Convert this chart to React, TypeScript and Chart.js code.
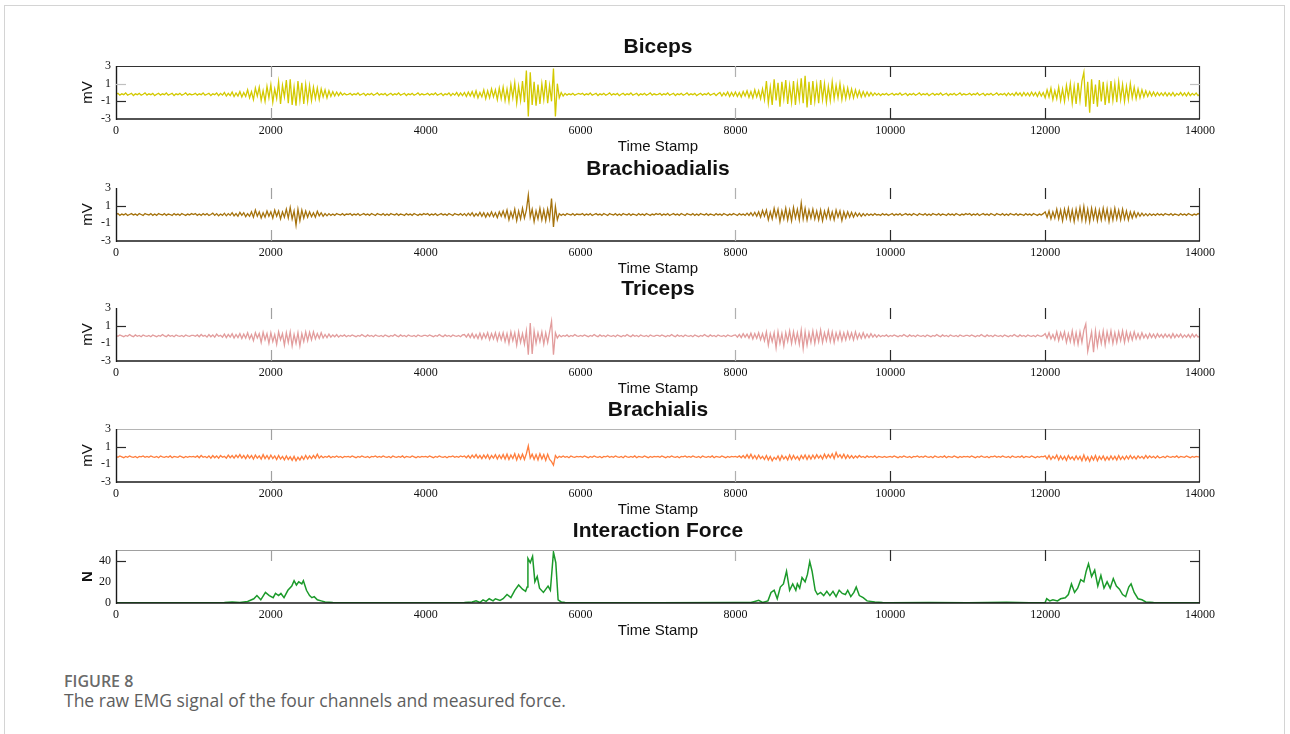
import React, { useEffect, useRef } from "react";
import { Chart, registerables } from "chart.js";

Chart.register(...registerables);

// ---- data (EMG sampled every 25 time stamps, 0..14000) ----
const SAMPLE_STEP = 25;

const bicepsQuietA = [-0.2,-0.1,-0.3,-0.15,-0.25,-0.05,-0.3,-0.2,-0.1,-0.35,-0.15,-0.25,-0.1,-0.3,-0.2,-0.05,-0.3,-0.15,-0.25,-0.1];
const bicepsQuietB = [-0.35,-0.2,-0.1,-0.3,-0.15,-0.25,-0.05,-0.3,-0.2,-0.1,-0.35,-0.15,-0.25,-0.1,-0.3,-0.2,-0.05,-0.3,-0.15,-0.25];

const biceps = [
  ...bicepsQuietA, ...bicepsQuietB,
  -0.2,-0.1,-0.3,-0.15,-0.25,-0.05,-0.3,-0.2,-0.1,-0.35,-0.15,-0.25,-0.05,-0.35,-0.1,-0.3,
  0.0,-0.4,-0.1,-0.35,0.05,-0.45,-0.05,-0.4,0.1,-0.5,0.0,-0.45,
  0.3,-0.6,0.1,-0.8,0.5,-0.4,0.6,-0.9,0.2,-1.0,0.7,-0.6,
  0.9,-1.1,0.4,-0.7,1.2,-1.3,0.8,-0.5,1.4,-1.2,1.5,-1.4,0.6,-1.5,1.3,-0.9,1.1,-1.3,0.9,-1.0,
  0.8,-0.9,0.6,-0.7,0.5,-0.8,0.4,-0.5,0.3,-0.6,0.2,-0.45,0.1,-0.4,0.05,-0.35,0.0,-0.3,-0.1,-0.25,
  ...bicepsQuietA, ...bicepsQuietB,
  -0.2,-0.1,-0.3,-0.15,-0.25,-0.05,-0.3,-0.2,-0.1,-0.35,-0.15,-0.25,-0.05,-0.35,-0.1,-0.3,0.0,-0.4,-0.05,-0.35,0.0,-0.45,0.05,-0.4,
  0.1,-0.5,0.2,-0.6,0.0,-0.5,0.3,-0.7,0.2,-0.6,0.4,-0.5,0.3,-0.8,0.5,-0.7,
  0.6,-0.9,0.4,-1.0,0.9,-0.6,1.1,-1.2,0.7,-0.9,1.3,-1.1,
  2.5,-2.7,2.3,-1.4,
  1.2,-1.5,0.9,-1.3,1.0,-0.8,1.4,-1.2,0.8,-1.0,
  2.7,-2.7,1.0,
  -0.6,0.0,-0.4,-0.1,-0.3,-0.15,-0.25,-0.1,-0.3,-0.2,-0.1,
  ...bicepsQuietA, ...bicepsQuietB,
  -0.2,-0.1,-0.3,-0.15,-0.25,-0.05,-0.3,-0.2,-0.1,-0.35,-0.15,-0.25,-0.1,-0.3,-0.2,-0.05,-0.3,-0.15,-0.25,-0.1,-0.35,-0.2,-0.1,-0.3,-0.15,-0.25,-0.05,-0.3,-0.2,-0.1,-0.35,-0.15,
  0.0,-0.4,-0.05,-0.35,0.05,-0.45,0.0,-0.4,
  0.05,-0.45,0.0,-0.5,0.1,-0.4,0.2,-0.55,0.1,-0.6,0.3,-0.5,0.2,-0.7,0.4,-0.8,
  1.3,-1.2,0.6,-1.4,1.5,-0.9,1.1,-1.6,1.2,-0.7,1.4,-1.3,0.8,-1.1,1.3,-1.4,1.0,-0.8,1.6,-1.2,1.9,-1.7,1.2,-1.4,
  1.3,-1.0,0.9,-1.2,1.4,-0.8,1.0,-1.1,0.7,-0.9,1.2,-0.7,0.8,-0.6,1.0,-0.8,0.6,-0.7,0.5,-0.6,
  0.4,-0.6,0.3,-0.5,0.2,-0.5,0.1,-0.45,0.05,-0.4,0.0,-0.35,-0.05,-0.3,-0.1,-0.35,-0.15,-0.25,-0.1,-0.3,
  ...bicepsQuietA, ...bicepsQuietB,
  ...bicepsQuietA,
  -0.35,-0.05,-0.3,-0.1,-0.35,0.0,-0.3,-0.05,-0.4,0.0,-0.35,-0.05,-0.4,0.05,-0.35,0.0,-0.45,0.05,-0.4,0.0,
  -0.6,0.3,-0.5,0.5,-0.8,0.2,-0.7,0.6,-0.9,0.4,-1.0,0.8,-0.6,1.0,-1.2,0.7,-1.3,1.1,-0.9,1.3,
  2.3,-1.6,1.2,-2.3,1.5,-1.3,0.9,-1.6,1.4,-1.0,1.2,-1.4,0.8,-1.2,1.3,-0.9,1.0,-1.1,1.2,-0.8,
  0.9,-1.0,0.7,-0.8,1.0,-0.6,0.6,-0.7,0.4,-0.6,0.3,-0.5,0.2,-0.45,0.1,-0.4,0.05,-0.4,0.0,-0.35,
  -0.05,-0.35,0.0,-0.4,-0.05,-0.35,0.0,-0.4,-0.1,-0.3,0.0,-0.35,-0.05,-0.4,0.0,-0.35,-0.1,-0.3,-0.05,-0.35,
  -0.2,
];

const brachioQuietA = [0.0,0.1,-0.1,0.05,-0.05,0.1,-0.1,0.0,0.1,-0.05,0.05,-0.1,0.1,0.0,-0.1,0.1,0.0,-0.05,0.1,-0.1];
const brachioQuietB = [0.05,-0.1,0.1,0.0,-0.05,0.1,-0.1,0.05,0.0,-0.1,0.1,-0.05,0.05,-0.1,0.1,0.0,-0.1,0.05,-0.05,0.1];

const brachioradialis = [
  ...brachioQuietA, ...brachioQuietB,
  0.0,0.1,-0.1,0.05,-0.1,0.1,-0.05,0.1,-0.1,0.0,0.15,-0.1,0.1,-0.15,0.05,-0.1,0.15,-0.15,0.1,-0.1,
  0.2,-0.15,0.1,-0.2,0.25,-0.1,0.2,-0.25,0.1,-0.2,0.3,-0.3,0.5,-0.2,0.3,-0.4,0.2,-0.3,0.4,-0.2,
  0.3,-0.4,0.5,-0.2,0.4,-0.5,0.3,-0.3,0.6,-0.4,0.8,-0.5,0.4,-1.2,0.6,-0.7,0.5,-0.4,0.4,-0.3,
  0.3,-0.25,0.2,-0.3,0.35,-0.15,0.2,-0.2,0.1,-0.15,0.1,-0.1,0.05,-0.1,0.1,0.0,-0.05,0.1,-0.1,0.05,
  ...brachioQuietA, ...brachioQuietB,
  ...brachioQuietA,
  0.1,-0.15,0.15,-0.1,0.2,-0.2,0.1,-0.15,0.25,-0.2,0.2,-0.3,0.15,-0.2,0.3,-0.25,0.2,-0.35,0.3,-0.2,
  0.4,-0.3,0.5,-0.6,0.3,-0.4,0.6,-0.7,0.4,-0.5,0.7,-0.4,0.5,
  2.2,-0.3,
  0.6,-0.8,0.4,-0.5,0.7,-0.6,0.5,-0.7,0.6,-0.5,
  1.8,-1.4,0.9,
  -0.6,0.1,-0.1,0.05,-0.1,0.1,0.0,-0.05,0.1,-0.1,0.05,0.0,
  ...brachioQuietA, ...brachioQuietB,
  ...brachioQuietA, ...brachioQuietB,
  0.0,-0.1,0.1,-0.05,0.05,-0.1,0.15,-0.1,0.2,-0.15,0.25,-0.2,0.3,-0.3,0.45,-0.2,
  0.5,-0.6,0.3,-0.5,0.7,-0.3,0.6,-0.8,0.4,-0.5,0.7,-0.6,0.5,-0.7,0.8,-0.4,0.6,-0.6,1.3,-0.5,0.7,-0.6,0.5,-0.4,
  0.6,-0.5,0.4,-0.6,0.5,-0.7,0.4,-0.4,0.6,-0.5,0.3,-0.6,0.5,-0.3,0.4,-0.7,0.3,-0.4,0.3,-0.3,
  0.25,-0.3,0.2,-0.2,0.15,-0.2,0.1,-0.15,0.1,-0.1,0.05,-0.1,0.1,-0.05,0.0,-0.1,0.1,-0.05,0.05,-0.1,
  ...brachioQuietA, ...brachioQuietB,
  ...brachioQuietA, ...brachioQuietB,
  0.3,-0.3,0.4,-0.5,0.3,-0.4,0.6,-0.5,0.5,-0.7,0.6,-0.4,0.7,-0.6,0.5,-0.8,0.6,-0.5,0.8,-0.6,
  0.9,-0.7,0.6,-0.8,0.7,-0.5,0.6,-0.7,0.5,-0.6,0.7,-0.5,0.6,-0.8,0.5,-0.6,0.7,-0.5,0.5,-0.6,
  0.6,-0.5,0.4,-0.6,0.3,-0.4,0.3,-0.3,0.2,-0.2,0.15,-0.15,0.1,-0.15,0.1,-0.1,0.05,-0.1,0.1,-0.05,
  ...brachioQuietB,
  0.0,
];

const tricepsQuietA = [-0.1,-0.2,-0.05,-0.15,-0.25,-0.1,-0.2,0.0,-0.15,-0.25,-0.05,-0.2,-0.1,-0.25,-0.05,-0.15,-0.2,-0.1,-0.25,-0.05];
const tricepsQuietB = [-0.15,-0.25,-0.1,-0.2,0.0,-0.15,-0.25,-0.05,-0.2,-0.1,-0.25,-0.05,-0.15,-0.2,-0.1,-0.25,-0.05,-0.15,-0.2,-0.1];

const triceps = [
  ...tricepsQuietA, ...tricepsQuietB,
  -0.1,-0.2,-0.05,-0.25,0.0,-0.2,-0.1,-0.3,0.0,-0.25,-0.05,-0.3,0.05,-0.2,-0.1,-0.3,
  0.05,-0.35,0.0,-0.3,0.1,-0.4,0.0,-0.35,0.1,-0.45,0.05,-0.4,
  0.2,-0.5,0.0,-0.7,0.2,-0.4,0.1,-0.9,0.25,-0.6,0.1,-1.0,
  0.2,-0.8,0.0,-1.1,0.3,-0.6,0.1,-1.2,0.2,-0.9,0.3,-1.3,0.0,-1.0,0.2,-1.3,0.1,-0.8,0.3,-0.7,
  0.25,-0.6,0.3,-0.5,0.1,-0.45,0.2,-0.4,0.0,-0.35,0.05,-0.3,-0.05,-0.25,0.0,-0.3,-0.1,-0.2,-0.05,-0.25,
  ...tricepsQuietA, ...tricepsQuietB,
  ...tricepsQuietA,
  0.0,-0.3,0.05,-0.35,0.1,-0.4,0.0,-0.45,0.15,-0.5,0.1,-0.4,0.2,-0.6,0.1,-0.5,0.2,-0.7,0.15,-0.6,
  0.2,-0.8,0.1,-1.0,0.3,-0.7,0.2,-1.2,0.3,-0.9,0.1,-1.1,0.4,
  -2.3,1.3,-2.2,
  0.4,-1.0,0.2,-0.8,0.3,-1.1,0.2,-0.9,0.3,
  1.5,-2.3,0.2,
  -0.4,-0.05,-0.25,-0.1,-0.2,-0.05,-0.25,-0.1,-0.2,0.0,-0.15,-0.2,
  ...tricepsQuietA, ...tricepsQuietB,
  ...tricepsQuietA, ...tricepsQuietB,
  -0.05,-0.3,0.0,-0.35,0.1,-0.3,0.05,-0.4,0.15,-0.5,0.1,-0.45,0.2,-0.6,0.1,-0.7,
  0.3,-1.2,0.1,-0.8,0.2,-1.5,0.3,-1.0,0.1,-1.3,0.2,-0.8,0.4,-1.0,0.3,-0.9,0.2,-1.1,0.5,-1.6,0.3,-1.2,0.2,-0.9,
  0.4,-1.0,0.3,-0.8,0.5,-0.9,0.2,-0.7,0.4,-0.8,0.3,-0.9,0.2,-0.6,0.3,-0.7,0.2,-0.6,0.3,-0.5,
  0.2,-0.6,0.3,-0.5,0.1,-0.45,0.2,-0.4,0.05,-0.35,0.1,-0.3,0.0,-0.3,-0.05,-0.25,-0.1,-0.2,-0.05,-0.25,
  ...tricepsQuietA, ...tricepsQuietB,
  ...tricepsQuietA, ...tricepsQuietB,
  0.1,-0.4,0.2,-0.5,0.0,-0.6,0.3,-0.7,0.2,-0.5,0.3,-0.9,0.1,-0.8,0.4,-1.0,0.2,-1.1,0.3,-0.9,
  0.5,1.2,-1.9,-0.8,0.3,-2.0,0.4,-1.3,0.2,-1.0,0.4,-1.2,0.3,-0.8,0.4,-1.0,0.2,-0.9,0.3,-0.7,
  0.4,-0.9,0.3,-0.7,0.2,-0.6,0.3,-0.5,0.1,-0.5,0.2,-0.4,0.0,-0.45,0.1,-0.35,0.05,-0.4,0.1,-0.3,
  0.0,-0.35,0.05,-0.3,0.0,-0.4,0.1,-0.35,0.0,-0.3,0.05,-0.35,-0.05,-0.3,0.0,-0.35,0.05,-0.3,0.0,-0.3,
  -0.15,
];

const brachialisQuietA = [-0.1,-0.2,-0.05,-0.15,-0.25,-0.1,-0.2,-0.05,-0.15,-0.2,-0.1,-0.25,-0.1,-0.15,-0.05,-0.2,-0.1,-0.2,-0.05,-0.15];
const brachialisQuietB = [-0.2,-0.1,-0.25,-0.05,-0.15,-0.2,-0.1,-0.2,-0.05,-0.25,-0.1,-0.15,-0.2,-0.05,-0.15,-0.25,-0.1,-0.2,-0.1,-0.15];

const brachialis = [
  ...brachialisQuietA, ...brachialisQuietB,
  -0.1,-0.2,-0.05,-0.25,0.0,-0.2,-0.1,-0.25,-0.05,-0.3,0.0,-0.25,-0.05,-0.3,0.0,-0.2,-0.1,-0.3,0.05,-0.25,
  0.0,-0.3,0.05,-0.25,0.1,-0.3,0.0,-0.35,0.05,-0.3,0.0,-0.4,0.05,-0.3,-0.05,-0.4,0.1,-0.35,0.0,-0.4,
  0.05,-0.35,-0.05,-0.45,0.0,-0.4,-0.1,-0.5,-0.05,-0.45,-0.15,-0.55,-0.1,-0.6,-0.2,-0.5,-0.1,-0.45,0.0,-0.4,
  -0.05,-0.35,0.0,-0.3,0.15,-0.3,-0.05,-0.25,-0.1,-0.2,-0.05,-0.25,-0.1,-0.2,-0.05,-0.2,-0.1,-0.25,-0.1,-0.15,
  ...brachialisQuietA, ...brachialisQuietB,
  ...brachialisQuietA,
  -0.05,-0.25,0.0,-0.3,0.05,-0.25,0.1,-0.3,0.0,-0.35,0.05,-0.3,0.1,-0.4,0.0,-0.3,0.1,-0.4,0.05,-0.35,
  0.1,-0.4,0.15,-0.45,0.05,-0.35,0.2,-0.5,0.1,-0.4,0.15,-0.45,0.2,
  1.1,-0.3,
  0.15,-0.45,0.1,-0.5,0.2,-0.4,0.1,-0.55,0.15,-0.45,
  -0.7,-1.1,0.0,
  -0.3,-0.1,-0.2,-0.05,-0.2,-0.1,-0.25,-0.05,-0.15,-0.2,-0.1,-0.15,
  ...brachialisQuietA, ...brachialisQuietB,
  ...brachialisQuietA, ...brachialisQuietB,
  -0.1,-0.2,-0.05,-0.25,0.0,-0.3,0.1,-0.3,0.15,-0.35,0.0,-0.4,0.05,-0.35,-0.1,-0.45,
  0.0,-0.5,-0.1,-0.6,-0.2,-0.45,-0.05,-0.55,0.0,-0.4,-0.1,-0.5,0.05,-0.45,0.0,-0.4,-0.1,-0.5,0.0,-0.35,0.05,-0.45,0.0,-0.4,
  0.05,-0.35,0.1,-0.3,0.0,-0.4,0.15,-0.3,0.1,-0.25,0.2,-0.35,0.35,-0.2,0.1,-0.3,0.15,-0.35,0.05,-0.3,
  0.0,-0.3,-0.05,-0.25,0.0,-0.2,-0.1,-0.25,-0.05,-0.2,-0.1,-0.2,-0.05,-0.25,-0.1,-0.15,-0.2,-0.1,-0.2,-0.15,
  ...brachialisQuietA, ...brachialisQuietB,
  ...brachialisQuietA, ...brachialisQuietB,
  -0.05,-0.4,0.0,-0.45,-0.1,-0.35,0.05,-0.5,-0.05,-0.45,-0.1,-0.55,0.0,-0.4,-0.15,-0.5,-0.05,-0.45,-0.1,-0.6,
  0.05,-0.55,-0.15,-0.65,-0.1,-0.5,0.0,-0.6,-0.1,-0.45,-0.05,-0.55,-0.15,-0.5,-0.05,-0.45,-0.1,-0.5,0.0,-0.45,
  -0.1,-0.45,-0.05,-0.4,0.0,-0.35,-0.1,-0.4,-0.05,-0.3,-0.1,-0.35,0.0,-0.3,-0.05,-0.25,-0.1,-0.3,-0.05,-0.25,
  ...brachialisQuietB,
  -0.15,
];

const forceTime = [
  0,500,1000,1400,1500,1600,1700,1780,1820,1870,
  1930,1980,2030,2060,2100,2130,2170,2220,2270,2300,
  2330,2360,2400,2420,2460,2500,2530,2560,2600,2650,
  2700,2800,3000,4000,4500,4600,4650,4700,4740,4780,
  4820,4870,4900,4960,5000,5050,5100,5150,5200,5250,
  5290,5310,5320,5350,5380,5410,5440,5470,5520,5580,
  5610,5650,5680,5710,5750,5800,6000,7000,8000,8200,
  8250,8300,8350,8420,8460,8500,8540,8580,8620,8660,
  8700,8740,8780,8800,8830,8860,8900,8930,8960,8990,
  9030,9060,9100,9140,9180,9220,9260,9300,9340,9380,
  9420,9450,9490,9530,9560,9600,9650,9700,9800,9900,
  10000,10500,11000,11500,11800,12000,12020,12060,12100,12160,
  12200,12260,12300,12340,12380,12420,12460,12500,12530,12560,
  12600,12640,12680,12720,12760,12800,12840,12880,12920,12960,
  13000,13040,13080,13110,13150,13200,13250,13300,13400,13500,
  14000,
];
const forceValues = [
  0.3,0.3,0.3,0.5,1,0.5,1.5,4,7,3,
  10,7,5,9,7,9,5,12,16,21,
  17,20,18,21,12,7,5,6,3,2,
  1,0.5,0.3,0.3,0.5,1,2,0.5,3,1.5,
  4,2,4,2.5,4,8,5,12,17,13,
  11,15,42,38,44,20,25,14,10,16,
  12,48,38,3,1,0.5,0.3,0.3,0.5,0.5,
  1.5,2.5,0.5,2,10,12,4,15,18,30,
  12,18,12,18,14,24,20,27,39,30,
  12,8,10,7,11,7,11,6,12,9,
  8,12,6,10,15,7,5,2,1,0.5,
  0.3,0.5,0.3,0.8,0.3,0.5,4,2,3,2,
  4,5,8,18,10,14,22,20,30,37,
  25,31,16,26,14,20,14,23,16,13,
  8,6,15,18,10,4,3,1,0.5,0.3,
  0.3,
];

const timeTicks = [0, 2000, 4000, 6000, 8000, 10000, 12000, 14000];
const emgYTicks = [-3, -1, 1, 3];
const forceYTicks = [0, 20, 40];

const emgTime = biceps.map((_, i) => i * SAMPLE_STEP);

// ---- layout / styles ----
const CANVAS_LEFT = 56;
const CANVAS_W = 1190;
const CANVAS_H = 135;
const PAD_TOP = 40;
const PAD_RIGHT = 46;
const Y_AXIS_W = 60;
const X_AXIS_H = 42;

const SERIF = '"Liberation Serif", "Times New Roman", Times, serif';
const SANS = '"Liberation Sans", Arial, Helvetica, sans-serif';

const GREY_MARK = "#b0b0b0";
const DARK_MARK = "#2a2a2a";
const xMarks = [
  { v: 2000, c: "#a0a0a0" },
  { v: 8000, c: GREY_MARK },
  { v: 10000, c: DARK_MARK },
  { v: 12000, c: DARK_MARK },
];

type PanelCfg = {
  title: string;
  yLabel: string;
  yFont: string;
  times: number[];
  values: number[];
  color: string;
  plotTop: number;
  yMin: number;
  yMax: number;
  yTicks: number[];
  topLine: string | null;
  yMarks: { v: number; c: string }[];
  bottomMarks: boolean;
  lineWidth: number;
};

const panels: PanelCfg[] = [
  {
    title: "Biceps", yLabel: "mV", yFont: `15px ${SANS}`, times: emgTime, values: biceps,
    color: "#d3c900", plotTop: 66, yMin: -3, yMax: 3, yTicks: emgYTicks, topLine: "#333",
    yMarks: [{ v: 1, c: "#c0c0c0" }, { v: -1, c: DARK_MARK }], bottomMarks: true, lineWidth: 1.3,
  },
  {
    title: "Brachioadialis", yLabel: "mV", yFont: `15px ${SANS}`, times: emgTime, values: brachioradialis,
    color: "#a5720c", plotTop: 188, yMin: -3, yMax: 3, yTicks: emgYTicks, topLine: null,
    yMarks: [{ v: 1, c: DARK_MARK }], bottomMarks: true, lineWidth: 1.3,
  },
  {
    title: "Triceps", yLabel: "mV", yFont: `15px ${SANS}`, times: emgTime, values: triceps,
    color: "#e29c9c", plotTop: 308, yMin: -3, yMax: 3, yTicks: emgYTicks, topLine: null,
    yMarks: [{ v: 1, c: DARK_MARK }], bottomMarks: true, lineWidth: 1.3,
  },
  {
    title: "Brachialis", yLabel: "mV", yFont: `15px ${SANS}`, times: emgTime, values: brachialis,
    color: "#ff7d3c", plotTop: 429, yMin: -3, yMax: 3, yTicks: emgYTicks, topLine: "#b5b5b5",
    yMarks: [{ v: 1, c: DARK_MARK }], bottomMarks: true, lineWidth: 1.3,
  },
  {
    title: "Interaction Force", yLabel: "N", yFont: `bold 15px ${SANS}`, times: forceTime, values: forceValues,
    color: "#1b9a2a", plotTop: 550, yMin: 0, yMax: 50, yTicks: forceYTicks, topLine: "#a0a0a0",
    yMarks: [{ v: 40, c: DARK_MARK }], bottomMarks: false, lineWidth: 1.5,
  },
];

function makeDecor(cfg: PanelCfg) {
  return {
    id: "panelDecor",
    afterDraw(chart: any) {
      const { ctx, chartArea: a, scales } = chart;
      const xs = scales.x;
      const ys = scales.y;
      const line = (x1: number, y1: number, x2: number, y2: number, color: string, w: number) => {
        ctx.beginPath();
        ctx.strokeStyle = color;
        ctx.lineWidth = w;
        ctx.moveTo(x1, y1);
        ctx.lineTo(x2, y2);
        ctx.stroke();
      };
      ctx.save();
      if (cfg.topLine) line(a.left, a.top + 0.5, a.right, a.top + 0.5, cfg.topLine, 1);
      line(a.right - 0.5, a.top, a.right - 0.5, a.bottom, "#333", 1.2);
      line(a.left + 0.5, a.top, a.left + 0.5, a.bottom + 1, "#1a1a1a", 1.4);
      line(a.left, a.bottom, a.right, a.bottom, "#1a1a1a", 1.6);
      cfg.yMarks.forEach((m) => {
        const py = Math.round(ys.getPixelForValue(m.v)) + 0.5;
        line(a.left, py, a.left + 10, py, m.c, 1.2);
        line(a.right - 10, py, a.right, py, m.c, 1.2);
      });
      xMarks.forEach((m) => {
        const px = Math.round(xs.getPixelForValue(m.v)) + 0.5;
        line(px, a.top, px, a.top + 11, m.c, 1.2);
        if (cfg.bottomMarks) line(px, a.bottom - 11, px, a.bottom, m.c, 1.2);
      });
      const cx = (a.left + a.right) / 2;
      ctx.fillStyle = "#111";
      ctx.textAlign = "center";
      ctx.textBaseline = "middle";
      ctx.font = `bold 21px ${SANS}`;
      ctx.fillText(cfg.title, cx, a.top - 19);
      ctx.font = `15px ${SANS}`;
      ctx.fillText("Time Stamp", cx, a.bottom + 28);
      ctx.translate(a.left - 28, (a.top + a.bottom) / 2);
      ctx.rotate(-Math.PI / 2);
      ctx.font = cfg.yFont;
      ctx.fillText(cfg.yLabel, 0, 0);
      ctx.restore();
    },
  };
}

function Panel({ cfg }: { cfg: PanelCfg }) {
  const ref = useRef<HTMLCanvasElement>(null);
  useEffect(() => {
    const canvas = ref.current;
    if (!canvas) return;
    const points = cfg.times.map((t, i) => ({ x: t, y: cfg.values[i] }));
    const tickFont = { family: SERIF, size: 12 };
    const chart = new Chart(canvas, {
      type: "line",
      data: {
        datasets: [
          {
            data: points,
            borderColor: cfg.color,
            borderWidth: cfg.lineWidth,
            pointRadius: 0,
            tension: 0,
            fill: false,
          },
        ],
      },
      options: {
        responsive: false,
        animation: false,
        devicePixelRatio: 1,
        layout: { padding: { left: 0, right: PAD_RIGHT, top: PAD_TOP, bottom: 0 } },
        plugins: {
          legend: { display: false },
          tooltip: { enabled: false },
          title: { display: false },
        },
        scales: {
          x: {
            type: "linear",
            min: 0,
            max: 14000,
            afterBuildTicks: (s: any) => {
              s.ticks = timeTicks.map((v) => ({ value: v }));
            },
            afterFit: (s: any) => {
              s.height = X_AXIS_H;
            },
            grid: { display: false, drawTicks: false },
            border: { display: false },
            ticks: {
              padding: 5,
              color: "#111",
              font: tickFont,
              maxRotation: 0,
              autoSkip: false,
              callback: (v: any) => String(v),
            },
          },
          y: {
            type: "linear",
            min: cfg.yMin,
            max: cfg.yMax,
            afterBuildTicks: (s: any) => {
              s.ticks = cfg.yTicks.map((v) => ({ value: v }));
            },
            afterFit: (s: any) => {
              s.width = Y_AXIS_W;
            },
            grid: { display: false, drawTicks: false },
            border: { display: false },
            ticks: {
              padding: 5,
              color: "#111",
              font: tickFont,
              callback: (v: any) => String(v),
            },
          },
        },
      },
      plugins: [makeDecor(cfg)],
    } as any);
    return () => chart.destroy();
  }, [cfg]);
  return (
    <canvas
      ref={ref}
      width={CANVAS_W}
      height={CANVAS_H}
      style={{
        position: "absolute",
        left: CANVAS_LEFT,
        top: cfg.plotTop - PAD_TOP,
        width: CANVAS_W,
        height: CANVAS_H,
      }}
    />
  );
}

export default function App() {
  return (
    <div
      style={{
        position: "absolute",
        left: 0,
        top: 0,
        width: 1290,
        height: 734,
        overflow: "hidden",
        background: "#fff",
      }}
    >
      <div
        style={{
          position: "absolute",
          left: 4,
          top: 5,
          width: 1281,
          height: 760,
          border: "1px solid #d4d4d4",
          boxSizing: "border-box",
        }}
      />
      {panels.map((p) => (
        <Panel key={p.title} cfg={p} />
      ))}
      <div
        style={{
          position: "absolute",
          left: 64,
          top: 670,
          font: `600 16px "Open Sans", "Noto Sans", sans-serif`,
          color: "#6a6a6a",
          whiteSpace: "nowrap",
          lineHeight: "22px",
        }}
      >
        FIGURE 8
      </div>
      <div
        style={{
          position: "absolute",
          left: 64,
          top: 689,
          font: `17.5px "Open Sans", "Noto Sans", sans-serif`,
          color: "#5e5e5e",
          whiteSpace: "nowrap",
          lineHeight: "22px",
        }}
      >
        The raw EMG signal of the four channels and measured force.
      </div>
    </div>
  );
}
